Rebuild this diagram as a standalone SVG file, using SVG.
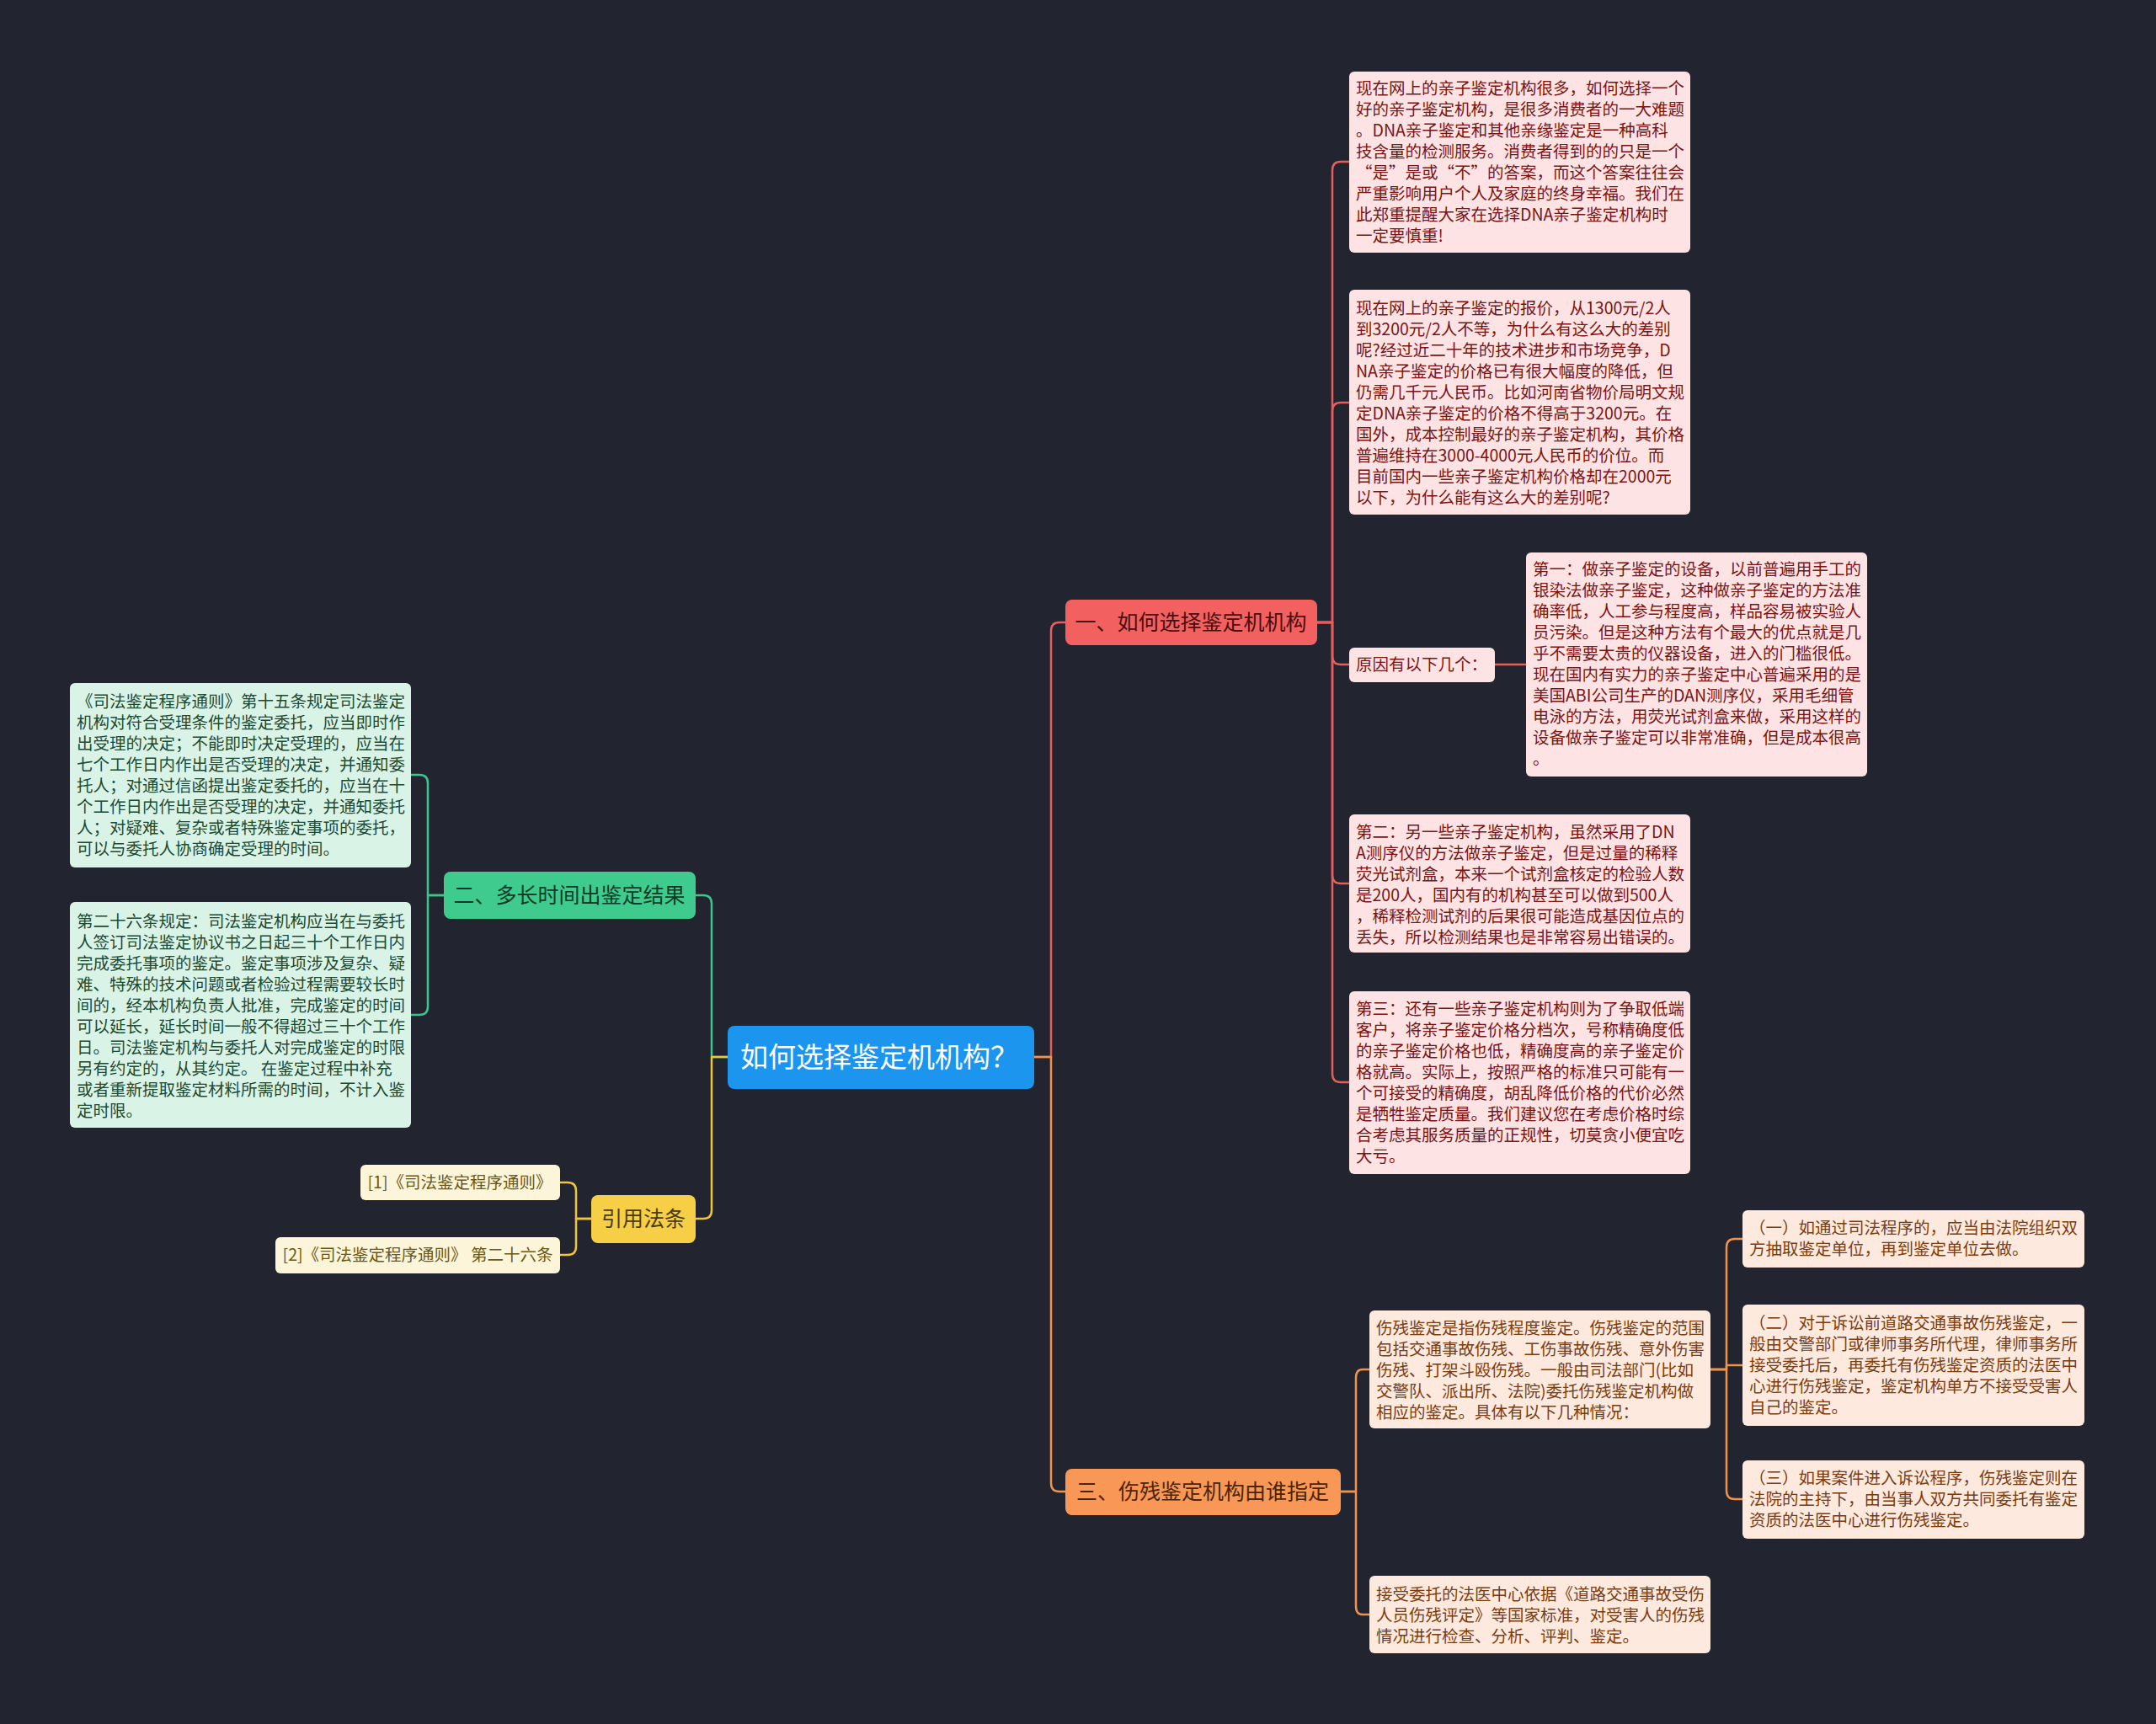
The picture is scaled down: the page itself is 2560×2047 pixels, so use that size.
<svg xmlns="http://www.w3.org/2000/svg" width="2560" height="2047" viewBox="0 0 2560 2047">
<style>
text{font-family:"Noto Sans CJK SC","Noto Sans",sans-serif;}
.leaf{font-size:19.5px;}
.br{font-size:25px;text-anchor:middle;}
.c{fill:none;stroke-width:2.5;stroke-linecap:round;stroke-linejoin:round;}
.cr{stroke:#e85c5c;} .co{stroke:#f0924c;} .cg{stroke:#3fc48c;} .cy{stroke:#f1c53a;}
.lr{fill:#fde3e3;} .tr{fill:#7a1414;}
.lg{fill:#daf3e7;} .tg{fill:#1c4a33;}
.lo{fill:#fde9dd;} .to{fill:#7a3d12;}
.ly{fill:#fdf5da;} .ty{fill:#6b5814;}
</style>
<rect x="0" y="0" width="2560" height="2047" fill="#22252f"/>
<g id="connectors">
<path class="c cr" d="M1228,1255 H1248 V749 Q1248,739 1258,739 H1265"/>
<path class="c co" d="M1228,1255 H1248 V1761 Q1248,1771 1258,1771 H1265"/>
<path class="c cg" d="M864,1255 H845 V1073 Q845,1063 835,1063 H826"/>
<path class="c cy" d="M864,1255 H845 V1437 Q845,1447 835,1447 H826"/>
<path class="c cr" d="M1564,739 H1582 V202 Q1582,192 1592,192 H1602"/>
<path class="c cr" d="M1564,739 H1582 V488 Q1582,478 1592,478 H1602"/>
<path class="c cr" d="M1564,739 H1582 V779 Q1582,789 1592,789 H1602"/>
<path class="c cr" d="M1564,739 H1582 V1039 Q1582,1049 1592,1049 H1602"/>
<path class="c cr" d="M1564,739 H1582 V1275 Q1582,1285 1592,1285 H1602"/>
<path class="c cr" d="M1775,789 H1812"/>
<path class="c co" d="M1592,1771 H1610 V1636 Q1610,1626 1618,1626 H1626"/>
<path class="c co" d="M1592,1771 H1610 V1907 Q1610,1917 1618,1917 H1626"/>
<path class="c co" d="M2031,1626 H2050 V1481 Q2050,1471 2060,1471 H2069"/>
<path class="c co" d="M2031,1626 H2050 V1621 H2069"/>
<path class="c co" d="M2031,1626 H2050 V1770 Q2050,1780 2060,1780 H2069"/>
<path class="c cg" d="M527,1063 H508 V930 Q508,920 498,920 H488"/>
<path class="c cg" d="M527,1063 H508 V1195 Q508,1205 498,1205 H488"/>
<path class="c cy" d="M702,1447 H684 V1414 Q684,1404 674,1404 H665"/>
<path class="c cy" d="M702,1447 H684 V1480 Q684,1490 674,1490 H665"/>
</g>
<g id="root">
<rect x="864" y="1218" width="364" height="75" rx="8" fill="#1b95ee"/>
<text x="879" y="1267" font-size="33" fill="#ffffff">如何选择鉴定机机构？</text>
</g>
<g id="branch1">
<rect x="1265" y="712" width="299" height="54" rx="8" fill="#f2605f"/>
<text class="br" x="1414" y="748" fill="#4a0e0e">一、如何选择鉴定机机构</text>
</g>
<g id="branch3">
<rect x="1265" y="1744" width="327" height="55" rx="8" fill="#f99756"/>
<text class="br" x="1428" y="1780" fill="#4a2406">三、伤残鉴定机构由谁指定</text>
</g>
<g id="branch2">
<rect x="527" y="1035" width="299" height="56" rx="8" fill="#3fcb8d"/>
<text class="br" x="676" y="1072" fill="#0e3a26">二、多长时间出鉴定结果</text>
</g>
<g id="branch4">
<rect x="702" y="1419" width="124" height="57" rx="8" fill="#f6cf47"/>
<text class="br" x="764" y="1456" fill="#4a3a05">引用法条</text>
</g>
<g id="r1">
<rect class="lr" x="1602" y="85" width="405" height="215" rx="6"/>
<text class="leaf tr"><tspan x="1610" y="112">现在网上的亲子鉴定机构很多，如何选择一个</tspan><tspan x="1610" y="137">好的亲子鉴定机构，是很多消费者的一大难题</tspan><tspan x="1610" y="162">。DNA亲子鉴定和其他亲缘鉴定是一种高科</tspan><tspan x="1610" y="187">技含量的检测服务。消费者得到的的只是一个</tspan><tspan x="1610" y="212">“是”是或“不”的答案，而这个答案往往会</tspan><tspan x="1610" y="237">严重影响用户个人及家庭的终身幸福。我们在</tspan><tspan x="1610" y="262">此郑重提醒大家在选择DNA亲子鉴定机构时</tspan><tspan x="1610" y="287">一定要慎重!</tspan></text>
</g>
<g id="r2">
<rect class="lr" x="1602" y="344" width="405" height="267" rx="6"/>
<text class="leaf tr"><tspan x="1610" y="373">现在网上的亲子鉴定的报价，从1300元/2人</tspan><tspan x="1610" y="398">到3200元/2人不等，为什么有这么大的差别</tspan><tspan x="1610" y="423">呢?经过近二十年的技术进步和市场竞争，D</tspan><tspan x="1610" y="448">NA亲子鉴定的价格已有很大幅度的降低，但</tspan><tspan x="1610" y="473">仍需几千元人民币。比如河南省物价局明文规</tspan><tspan x="1610" y="498">定DNA亲子鉴定的价格不得高于3200元。在</tspan><tspan x="1610" y="523">国外，成本控制最好的亲子鉴定机构，其价格</tspan><tspan x="1610" y="548">普遍维持在3000-4000元人民币的价位。而</tspan><tspan x="1610" y="573">目前国内一些亲子鉴定机构价格却在2000元</tspan><tspan x="1610" y="598">以下，为什么能有这么大的差别呢?</tspan></text>
</g>
<g id="reason">
<rect class="lr" x="1602" y="769" width="173" height="41" rx="6"/>
<text class="leaf tr" x="1610" y="796">原因有以下几个：</text>
</g>
<g id="r-first">
<rect class="lr" x="1812" y="656" width="405" height="266" rx="6"/>
<text class="leaf tr"><tspan x="1820" y="683">第一：做亲子鉴定的设备，以前普遍用手工的</tspan><tspan x="1820" y="708">银染法做亲子鉴定，这种做亲子鉴定的方法准</tspan><tspan x="1820" y="733">确率低，人工参与程度高，样品容易被实验人</tspan><tspan x="1820" y="758">员污染。但是这种方法有个最大的优点就是几</tspan><tspan x="1820" y="783">乎不需要太贵的仪器设备，进入的门槛很低。</tspan><tspan x="1820" y="808">现在国内有实力的亲子鉴定中心普遍采用的是</tspan><tspan x="1820" y="833">美国ABI公司生产的DAN测序仪，采用毛细管</tspan><tspan x="1820" y="858">电泳的方法，用荧光试剂盒来做，采用这样的</tspan><tspan x="1820" y="883">设备做亲子鉴定可以非常准确，但是成本很高</tspan><tspan x="1820" y="908">。</tspan></text>
</g>
<g id="r-second">
<rect class="lr" x="1602" y="967" width="405" height="164" rx="6"/>
<text class="leaf tr"><tspan x="1610" y="995">第二：另一些亲子鉴定机构，虽然采用了DN</tspan><tspan x="1610" y="1020">A测序仪的方法做亲子鉴定，但是过量的稀释</tspan><tspan x="1610" y="1045">荧光试剂盒，本来一个试剂盒核定的检验人数</tspan><tspan x="1610" y="1070">是200人，国内有的机构甚至可以做到500人</tspan><tspan x="1610" y="1095">，稀释检测试剂的后果很可能造成基因位点的</tspan><tspan x="1610" y="1120">丢失，所以检测结果也是非常容易出错误的。</tspan></text>
</g>
<g id="r-third">
<rect class="lr" x="1602" y="1177" width="405" height="217" rx="6"/>
<text class="leaf tr"><tspan x="1610" y="1205">第三：还有一些亲子鉴定机构则为了争取低端</tspan><tspan x="1610" y="1230">客户，将亲子鉴定价格分档次，号称精确度低</tspan><tspan x="1610" y="1255">的亲子鉴定价格也低，精确度高的亲子鉴定价</tspan><tspan x="1610" y="1280">格就高。实际上，按照严格的标准只可能有一</tspan><tspan x="1610" y="1305">个可接受的精确度，胡乱降低价格的代价必然</tspan><tspan x="1610" y="1330">是牺牲鉴定质量。我们建议您在考虑价格时综</tspan><tspan x="1610" y="1355">合考虑其服务质量的正规性，切莫贪小便宜吃</tspan><tspan x="1610" y="1380">大亏。</tspan></text>
</g>
<g id="g-a">
<rect class="lg" x="83" y="811" width="405" height="219" rx="6"/>
<text class="leaf tg"><tspan x="91" y="840">《司法鉴定程序通则》第十五条规定司法鉴定</tspan><tspan x="91" y="865">机构对符合受理条件的鉴定委托，应当即时作</tspan><tspan x="91" y="890">出受理的决定；不能即时决定受理的，应当在</tspan><tspan x="91" y="915">七个工作日内作出是否受理的决定，并通知委</tspan><tspan x="91" y="940">托人；对通过信函提出鉴定委托的，应当在十</tspan><tspan x="91" y="965">个工作日内作出是否受理的决定，并通知委托</tspan><tspan x="91" y="990">人；对疑难、复杂或者特殊鉴定事项的委托，</tspan><tspan x="91" y="1015">可以与委托人协商确定受理的时间。</tspan></text>
</g>
<g id="g-b">
<rect class="lg" x="83" y="1071" width="405" height="268" rx="6"/>
<text class="leaf tg" xml:space="preserve"><tspan x="91" y="1101">第二十六条规定：司法鉴定机构应当在与委托</tspan><tspan x="91" y="1126">人签订司法鉴定协议书之日起三十个工作日内</tspan><tspan x="91" y="1151">完成委托事项的鉴定。鉴定事项涉及复杂、疑</tspan><tspan x="91" y="1176">难、特殊的技术问题或者检验过程需要较长时</tspan><tspan x="91" y="1201">间的，经本机构负责人批准，完成鉴定的时间</tspan><tspan x="91" y="1226">可以延长，延长时间一般不得超过三十个工作</tspan><tspan x="91" y="1251">日。司法鉴定机构与委托人对完成鉴定的时限</tspan><tspan x="91" y="1276">另有约定的，从其约定。 在鉴定过程中补充</tspan><tspan x="91" y="1301">或者重新提取鉴定材料所需的时间，不计入鉴</tspan><tspan x="91" y="1326">定时限。</tspan></text>
</g>
<g id="y1">
<rect class="ly" x="428" y="1383" width="237" height="42" rx="6"/>
<text class="leaf ty" x="546" y="1411" text-anchor="middle">[1]《司法鉴定程序通则》</text>
</g>
<g id="y2">
<rect class="ly" x="327" y="1469" width="338" height="43" rx="6"/>
<text class="leaf ty" x="496" y="1497" text-anchor="middle" xml:space="preserve">[2]《司法鉴定程序通则》 第二十六条</text>
</g>
<g id="o-main">
<rect class="lo" x="1626" y="1556" width="405" height="140" rx="6"/>
<text class="leaf to"><tspan x="1634" y="1584">伤残鉴定是指伤残程度鉴定。伤残鉴定的范围</tspan><tspan x="1634" y="1609">包括交通事故伤残、工伤事故伤残、意外伤害</tspan><tspan x="1634" y="1634">伤残、打架斗殴伤残。一般由司法部门(比如</tspan><tspan x="1634" y="1659">交警队、派出所、法院)委托伤残鉴定机构做</tspan><tspan x="1634" y="1684">相应的鉴定。具体有以下几种情况：</tspan></text>
</g>
<g id="o-accept">
<rect class="lo" x="1626" y="1871" width="405" height="92" rx="6"/>
<text class="leaf to"><tspan x="1634" y="1900">接受委托的法医中心依据《道路交通事故受伤</tspan><tspan x="1634" y="1925">人员伤残评定》等国家标准，对受害人的伤残</tspan><tspan x="1634" y="1950">情况进行检查、分析、评判、鉴定。</tspan></text>
</g>
<g id="o-1">
<rect class="lo" x="2069" y="1437" width="406" height="68" rx="6"/>
<text class="leaf to"><tspan x="2077" y="1465">（一）如通过司法程序的，应当由法院组织双</tspan><tspan x="2077" y="1490">方抽取鉴定单位，再到鉴定单位去做。</tspan></text>
</g>
<g id="o-2">
<rect class="lo" x="2069" y="1549" width="406" height="144" rx="6"/>
<text class="leaf to"><tspan x="2077" y="1578">（二）对于诉讼前道路交通事故伤残鉴定，一</tspan><tspan x="2077" y="1603">般由交警部门或律师事务所代理，律师事务所</tspan><tspan x="2077" y="1628">接受委托后，再委托有伤残鉴定资质的法医中</tspan><tspan x="2077" y="1653">心进行伤残鉴定，鉴定机构单方不接受受害人</tspan><tspan x="2077" y="1678">自己的鉴定。</tspan></text>
</g>
<g id="o-3">
<rect class="lo" x="2069" y="1734" width="406" height="93" rx="6"/>
<text class="leaf to"><tspan x="2077" y="1762">（三）如果案件进入诉讼程序，伤残鉴定则在</tspan><tspan x="2077" y="1787">法院的主持下，由当事人双方共同委托有鉴定</tspan><tspan x="2077" y="1812">资质的法医中心进行伤残鉴定。</tspan></text>
</g>
</svg>
